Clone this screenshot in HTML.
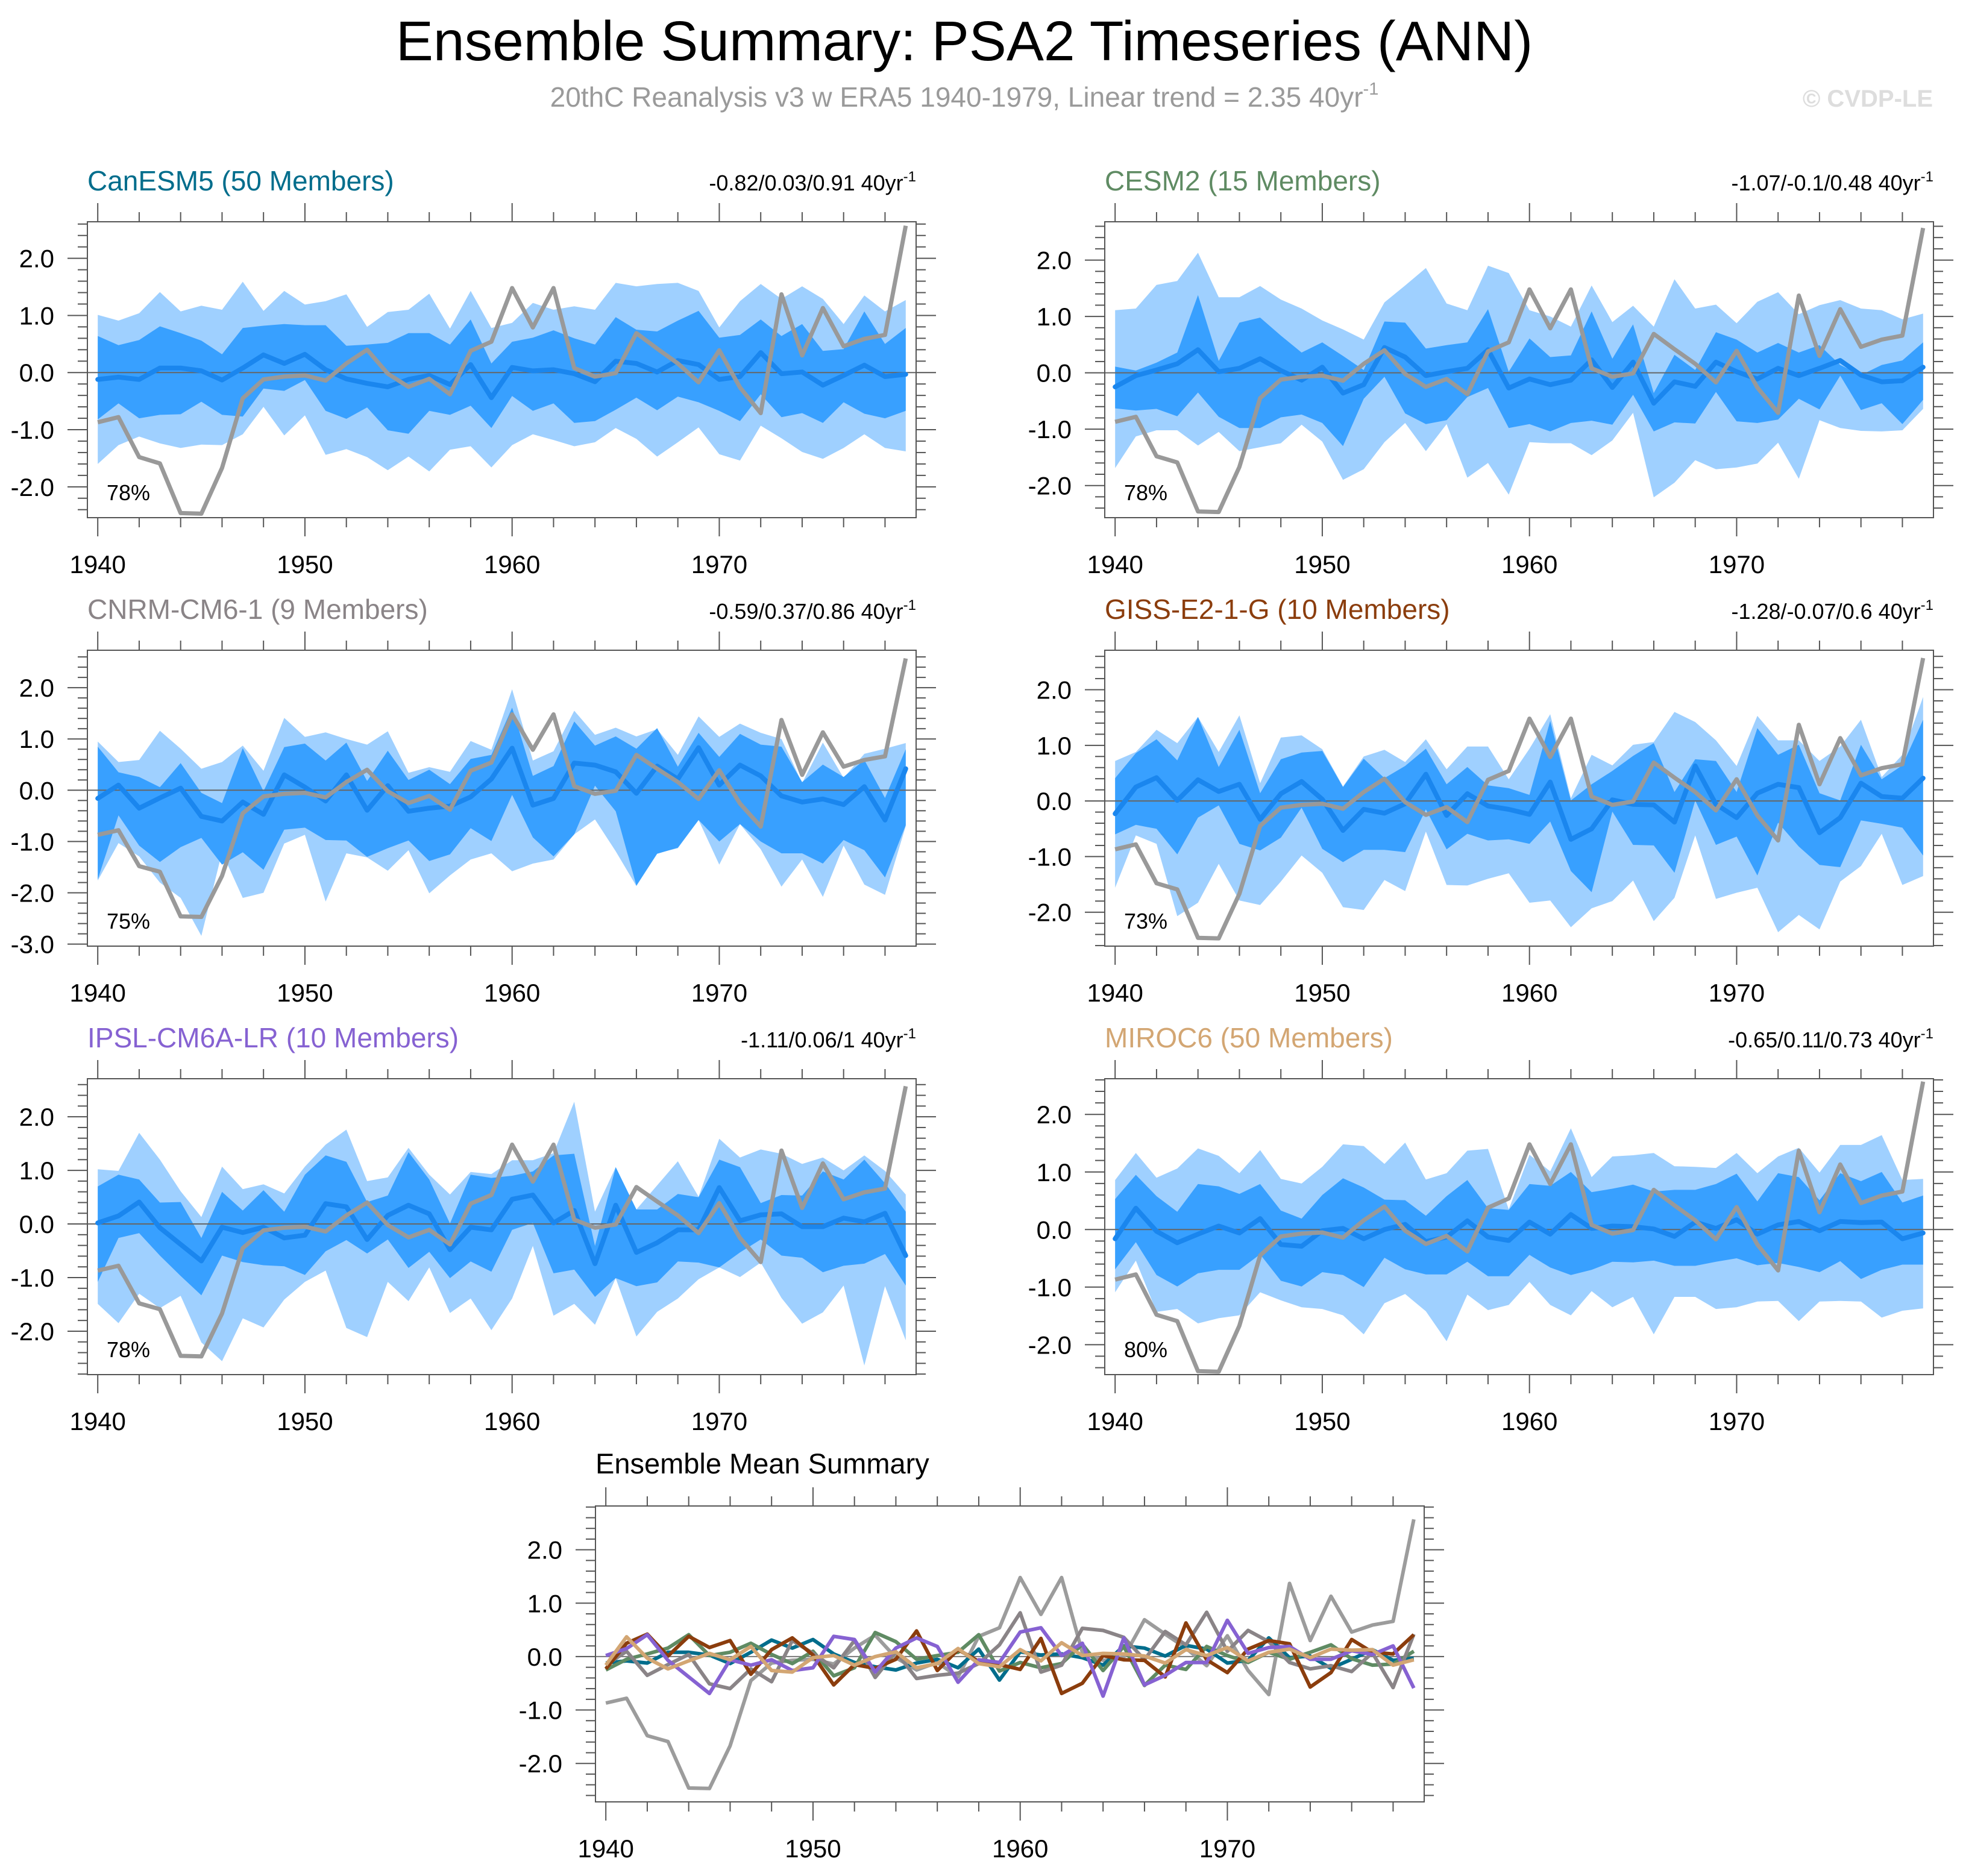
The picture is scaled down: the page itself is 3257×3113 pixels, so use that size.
<!DOCTYPE html>
<html><head><meta charset="utf-8"><title>Ensemble Summary: PSA2 Timeseries (ANN)</title>
<style>
html,body{margin:0;padding:0;background:#fff;}
svg{display:block;font-family:"Liberation Sans",Arial,sans-serif;}
</style></head>
<body>
<svg id="chart" xmlns="http://www.w3.org/2000/svg" width="3257" height="3113" viewBox="0 0 3257 3113">
<rect x="0" y="0" width="3257" height="3113" fill="#fff"/>
<text x="1600" y="100" font-size="93" text-anchor="middle" fill="#000">Ensemble Summary: PSA2 Timeseries (ANN)</text>
<text x="1600" y="177" font-size="46" text-anchor="middle" fill="#9a9a9a">20thC Reanalysis v3 w ERA5 1940-1979, Linear trend = 2.35 40yr<tspan dy="-20" font-size="29">-1</tspan></text>
<text x="3207" y="177" font-size="40" font-weight="bold" text-anchor="end" fill="#dddddd">© CVDP-LE</text>
<g id="panels"></g>
</svg>
<script>
const years = [1940,1941,1942,1943,1944,1945,1946,1947,1948,1949,1950,1951,1952,1953,1954,1955,1956,1957,1958,1959,1960,1961,1962,1963,1964,1965,1966,1967,1968,1969,1970,1971,1972,1973,1974,1975,1976,1977,1978,1979];
const xTickLabels = [1940,1950,1960,1970];
const obs = [-0.87,-0.78,-1.48,-1.59,-2.46,-2.47,-1.67,-0.45,-0.12,-0.07,-0.05,-0.14,0.16,0.40,-0.02,-0.25,-0.11,-0.38,0.38,0.54,1.48,0.79,1.48,0.08,-0.07,-0.01,0.69,0.42,0.16,-0.17,0.39,-0.26,-0.71,1.37,0.30,1.13,0.46,0.59,0.66,2.57];

const canMean = [-0.12,-0.08,-0.12,0.08,0.08,0.03,-0.13,0.08,0.31,0.16,0.32,0.05,-0.11,-0.19,-0.25,-0.12,-0.05,-0.21,0.14,-0.44,0.09,0.03,0.05,-0.02,-0.16,0.20,0.16,0.01,0.21,0.14,-0.12,-0.07,0.35,-0.02,0.01,-0.22,-0.05,0.13,-0.07,-0.03];
const canDarkHi = [0.64,0.48,0.57,0.81,0.69,0.56,0.32,0.78,0.82,0.85,0.83,0.83,0.47,0.49,0.52,0.69,0.69,0.49,0.93,0.16,0.54,0.61,0.74,0.60,0.49,0.97,0.75,0.72,0.91,1.08,0.61,0.66,0.93,0.64,0.85,0.38,0.41,1.07,0.50,0.78];
const canDarkLo = [-0.82,-0.54,-0.80,-0.74,-0.73,-0.51,-0.74,-0.77,-0.28,-0.32,-0.13,-0.67,-0.81,-0.61,-1.01,-1.07,-0.67,-0.74,-0.58,-0.97,-0.41,-0.67,-0.54,-0.88,-0.85,-0.65,-0.44,-0.66,-0.42,-0.52,-0.67,-0.85,-0.38,-0.78,-0.71,-0.88,-0.52,-0.72,-0.80,-0.67];
const canLightHi = [1.01,0.91,1.04,1.41,1.07,1.17,1.10,1.59,1.08,1.43,1.19,1.25,1.37,0.80,1.06,1.10,1.38,0.77,1.43,0.78,0.87,1.22,1.10,1.16,1.10,1.57,1.51,1.55,1.57,1.43,0.79,1.25,1.55,1.29,1.51,1.29,0.85,1.35,1.07,1.27];
const canLightLo = [-1.60,-1.27,-1.12,-1.24,-1.32,-1.26,-1.27,-1.08,-0.60,-1.10,-0.75,-1.44,-1.34,-1.48,-1.71,-1.47,-1.73,-1.35,-1.29,-1.66,-1.27,-1.08,-1.18,-1.29,-1.22,-0.97,-1.16,-1.47,-1.22,-0.96,-1.43,-1.54,-0.93,-1.15,-1.39,-1.51,-1.32,-1.08,-1.32,-1.38];

const cesmMean = [-0.25,-0.05,0.05,0.16,0.41,0.02,0.08,0.25,0.04,-0.13,0.10,-0.36,-0.21,0.45,0.28,-0.05,0.02,0.08,0.41,-0.27,-0.11,-0.21,-0.13,0.23,-0.26,0.19,-0.54,-0.16,-0.24,0.19,0.02,-0.11,0.08,-0.05,0.08,0.22,-0.04,-0.16,-0.14,0.10];
const cesmDarkHi = [0.11,0.04,0.18,0.36,1.38,0.21,0.89,0.98,0.66,0.36,0.54,0.30,0.05,0.91,0.89,0.43,0.49,0.54,1.13,0.02,0.61,0.28,0.31,1.09,0.25,0.86,-0.36,0.32,0.05,0.72,0.59,0.36,0.53,0.36,0.49,0.14,-0.04,0.14,0.22,0.54];
const cesmDarkLo = [-0.63,-0.67,-0.64,-0.77,-0.35,-0.78,-0.98,-0.98,-0.79,-0.74,-0.89,-1.30,-0.46,-0.07,-0.72,-0.91,-0.84,-0.43,-0.27,-0.98,-0.91,-1.04,-0.89,-0.85,-0.92,-0.39,-1.04,-0.88,-0.90,-0.34,-0.86,-0.89,-0.83,-0.46,-0.65,-0.05,-0.66,-0.54,-0.91,-0.48];
const cesmLightHi = [1.11,1.14,1.56,1.63,2.13,1.34,1.34,1.54,1.30,1.14,0.93,0.77,0.59,1.25,1.55,1.86,1.23,1.11,1.90,1.77,1.11,1.00,0.82,1.55,0.90,1.19,0.82,1.66,1.14,1.21,0.88,1.26,1.43,1.04,1.20,1.29,1.14,1.11,0.95,1.05];
const cesmLightLo = [-1.69,-1.13,-1.02,-1.02,-1.29,-1.05,-1.39,-1.32,-1.25,-0.92,-1.22,-1.90,-1.71,-1.23,-0.89,-1.39,-0.91,-1.86,-1.60,-2.16,-1.23,-1.25,-1.25,-1.46,-1.20,-0.71,-2.21,-1.95,-1.55,-1.71,-1.68,-1.61,-1.24,-1.88,-0.84,-0.98,-1.03,-1.04,-1.02,-0.64];

const cnrmMean = [-0.16,0.10,-0.35,-0.15,0.04,-0.51,-0.60,-0.23,-0.47,0.30,0.06,-0.21,0.30,-0.39,0.09,-0.41,-0.35,-0.31,-0.13,0.22,0.82,-0.29,-0.16,0.53,0.49,0.36,-0.06,0.47,0.22,0.83,0.10,0.49,0.28,-0.11,-0.23,-0.17,-0.28,0.07,-0.58,0.42];
const cnrmDarkHi = [0.85,0.35,0.26,0.06,0.53,-0.05,-0.25,0.82,-0.02,0.84,0.91,0.58,0.93,0.18,0.77,0.20,0.40,0.12,0.61,0.69,1.61,0.28,0.47,1.34,0.87,1.05,0.81,1.21,0.46,1.12,0.65,1.10,0.89,0.85,0.16,0.50,0.26,0.59,-0.15,0.80];
const cnrmDarkLo = [-1.74,-0.49,-1.08,-1.40,-1.11,-0.93,-1.45,-1.21,-1.55,-0.77,-0.73,-0.97,-0.98,-1.30,-1.13,-0.98,-1.38,-1.25,-0.74,-0.99,-0.09,-0.92,-1.29,-0.86,0.09,-0.41,-1.86,-1.24,-1.12,-0.58,-1.00,-0.66,-1.00,-1.23,-1.23,-1.43,-0.97,-1.17,-1.70,-0.68];
const cnrmLightHi = [0.95,0.55,0.59,1.16,0.81,0.42,0.55,0.87,0.38,1.41,1.04,1.13,1.00,0.89,1.15,0.34,0.45,0.36,0.96,0.79,1.97,0.58,0.76,1.55,1.08,1.22,1.05,1.19,0.69,1.44,1.04,1.30,1.12,1.00,0.14,0.93,0.24,0.71,0.81,0.92];
const cnrmLightLo = [-1.76,-1.03,-1.29,-1.80,-2.10,-2.84,-1.21,-2.10,-2.00,-1.04,-0.87,-2.17,-1.23,-1.31,-1.57,-1.17,-2.01,-1.66,-1.35,-1.23,-1.58,-1.43,-1.35,-0.86,-0.57,-1.19,-1.87,-1.23,-1.13,-0.58,-1.45,-0.66,-1.15,-1.88,-1.35,-2.08,-1.08,-1.84,-2.04,-0.70];

const gissMean = [-0.23,0.25,0.42,0.01,0.38,0.17,0.30,-0.33,0.13,0.35,0.03,-0.53,-0.15,-0.22,-0.05,0.48,-0.26,0.13,-0.09,-0.15,-0.24,0.34,-0.69,-0.50,0.02,-0.06,-0.07,-0.38,0.63,-0.06,-0.30,0.14,0.30,0.24,-0.57,-0.30,0.32,0.08,0.05,0.41];
const gissDarkHi = [0.41,0.86,1.11,0.73,1.51,0.61,1.28,0.14,0.75,0.87,0.90,0.25,0.76,0.41,0.63,0.94,0.30,0.61,0.28,0.23,0.11,1.44,0.01,0.30,0.54,0.81,1.04,0.16,0.75,0.72,0.16,1.31,0.83,1.01,0.14,0.01,1.01,0.39,0.64,1.46];
const gissDarkLo = [-0.60,-0.43,-0.50,-0.96,-0.30,-0.08,-0.77,-0.89,-0.66,-0.12,-0.86,-1.10,-0.88,-0.88,-0.92,-0.15,-0.87,-0.59,-0.71,-0.69,-0.77,-0.37,-1.26,-1.64,-0.19,-0.79,-0.80,-1.29,0.01,-0.79,-0.64,-1.34,-0.39,-0.82,-1.15,-1.19,-0.35,-0.41,-0.48,-0.98];
const gissLightHi = [0.72,0.88,1.28,1.04,1.51,0.88,1.54,0.32,1.14,1.18,0.93,0.26,0.80,0.92,0.70,1.11,0.57,0.98,0.98,0.39,0.94,1.56,0.05,0.83,0.64,1.01,1.06,1.60,1.42,1.09,0.63,1.53,1.09,1.09,0.72,0.98,1.46,0.43,0.83,1.87];
const gissLightLo = [-1.56,-0.62,-0.77,-2.07,-1.83,-1.13,-1.79,-1.87,-1.45,-0.98,-1.29,-1.91,-1.96,-1.42,-1.62,-0.55,-1.51,-1.52,-1.40,-1.30,-1.83,-1.79,-2.27,-1.93,-1.80,-1.43,-2.16,-1.74,-0.62,-1.76,-1.65,-1.56,-2.36,-2.05,-2.31,-1.45,-1.17,-0.59,-1.51,-1.35];

const ipslMean = [0.02,0.15,0.41,-0.07,-0.38,-0.69,-0.06,-0.16,-0.06,-0.26,-0.21,0.38,0.32,-0.29,0.16,0.35,0.19,-0.48,-0.06,-0.11,0.46,0.54,0.02,0.25,-0.74,0.35,-0.53,-0.35,-0.11,-0.11,0.68,0.06,0.17,0.19,-0.05,-0.05,0.11,0.04,0.20,-0.59];
const ipslDarkHi = [0.70,0.92,0.83,0.40,0.41,-0.26,0.60,0.25,0.63,0.23,0.92,1.28,1.16,0.41,0.53,1.34,0.83,0.01,0.92,0.86,0.90,0.98,1.28,1.31,-0.41,1.06,0.27,0.27,0.56,0.50,1.20,1.06,0.39,0.54,0.53,0.98,0.83,1.20,0.76,0.23];
const ipslDarkLo = [-1.08,-0.26,-0.17,-0.59,-0.97,-1.33,-0.59,-0.71,-0.77,-0.79,-0.95,-0.51,-0.30,-0.55,-0.29,-0.82,-0.52,-1.01,-0.70,-0.89,-0.11,0.02,-0.92,-0.85,-1.36,-1.01,-1.16,-1.09,-0.70,-0.72,-0.81,-0.53,-0.29,-0.59,-0.63,-0.90,-0.78,-0.74,-0.56,-1.15];
const ipslLightHi = [1.02,0.99,1.70,1.20,0.61,0.13,1.07,0.65,0.74,0.57,1.07,1.48,1.76,0.80,0.87,1.42,0.92,0.55,0.97,0.93,1.19,1.19,1.32,2.28,0.23,1.06,0.27,0.72,1.17,0.51,1.59,1.24,1.39,1.31,1.12,1.24,1.00,1.28,0.99,0.55];
const ipslLightLo = [-1.49,-1.85,-1.30,-1.57,-1.34,-2.21,-2.56,-1.76,-1.93,-1.41,-1.08,-0.87,-1.94,-2.11,-1.08,-1.44,-0.81,-1.66,-1.39,-1.98,-1.39,-0.41,-1.71,-1.49,-1.88,-1.01,-2.10,-1.64,-1.39,-1.03,-0.81,-0.99,-0.72,-1.38,-1.86,-1.65,-1.15,-2.64,-1.16,-2.17];

const mirocMean = [-0.16,0.37,-0.03,-0.23,-0.08,0.06,-0.06,0.19,-0.26,-0.29,-0.02,0.02,-0.16,0.00,0.09,-0.21,-0.13,0.15,-0.13,-0.19,0.13,-0.08,0.26,0.02,0.06,0.05,0.01,-0.12,0.13,0.02,0.17,-0.08,0.08,0.14,-0.02,0.14,0.12,0.13,-0.16,-0.06];
const mirocDarkHi = [0.53,0.95,0.58,0.31,0.79,0.75,0.62,0.79,0.33,0.19,0.60,0.89,0.73,0.52,0.51,0.24,0.58,0.86,0.37,0.34,0.79,0.76,1.00,0.65,0.71,0.78,0.66,0.69,0.69,0.79,0.97,0.49,0.98,0.91,0.51,0.98,0.84,1.00,0.47,0.59];
const mirocDarkLo = [-0.69,-0.22,-0.79,-0.99,-0.76,-0.70,-0.70,-0.43,-0.89,-0.99,-0.74,-0.79,-1.00,-0.49,-0.69,-0.78,-0.78,-0.56,-0.81,-0.81,-0.44,-0.66,-0.79,-0.70,-0.56,-0.57,-0.54,-0.63,-0.63,-0.56,-0.50,-0.62,-0.58,-0.65,-0.74,-0.55,-0.86,-0.70,-0.61,-0.61];
const mirocLightHi = [0.86,1.33,0.90,1.06,1.41,1.28,0.98,1.38,0.88,0.80,1.09,1.48,1.45,1.14,1.51,0.87,0.98,1.37,1.40,0.35,1.30,1.01,1.76,0.91,1.27,1.29,1.33,1.10,1.09,1.07,1.33,0.98,1.27,1.42,0.99,1.47,1.47,1.64,0.86,0.88];
const mirocLightLo = [-1.09,-0.54,-1.43,-1.38,-1.63,-1.54,-1.49,-1.09,-1.23,-1.35,-1.38,-1.49,-1.82,-1.28,-1.12,-1.42,-1.94,-1.13,-1.40,-1.31,-0.91,-1.31,-1.49,-1.07,-1.35,-1.17,-1.82,-1.17,-1.17,-1.38,-1.35,-1.25,-1.24,-1.59,-1.25,-1.24,-1.25,-1.53,-1.41,-1.37];

const modelNames = ["CanESM5 (50 Members)","CESM2 (15 Members)","CNRM-CM6-1 (9 Members)","GISS-E2-1-G (10 Members)","IPSL-CM6A-LR (10 Members)","MIROC6 (50 Members)"];
const trendLabels = ["-0.82/0.03/0.91 40yr","-1.07/-0.1/0.48 40yr","-0.59/0.37/0.86 40yr","-1.28/-0.07/0.6 40yr","-1.11/0.06/1 40yr","-0.65/0.11/0.73 40yr"];
const pctLabels = ["78%","78%","75%","73%","78%","80%"];
const yMins = [-2.54,-2.57,-3.04,-2.61,-2.81,-2.52];
const yMaxs = [2.64,2.68,2.73,2.71,2.71,2.62];
const yTickSets = [[-2,-1,0,1,2],[-2,-1,0,1,2],[-3,-2,-1,0,1,2],[-2,-1,0,1,2],[-2,-1,0,1,2],[-2,-1,0,1,2]];

const models = [
 {mean:canMean,dh:canDarkHi,dl:canDarkLo,lh:canLightHi,ll:canLightLo,color:"#006d8c",slug:"canesm5"},
 {mean:cesmMean,dh:cesmDarkHi,dl:cesmDarkLo,lh:cesmLightHi,ll:cesmLightLo,color:"#5f8b63",slug:"cesm2"},
 {mean:cnrmMean,dh:cnrmDarkHi,dl:cnrmDarkLo,lh:cnrmLightHi,ll:cnrmLightLo,color:"#8a8487",slug:"cnrm-cm6-1"},
 {mean:gissMean,dh:gissDarkHi,dl:gissDarkLo,lh:gissLightHi,ll:gissLightLo,color:"#8b3d0d",slug:"giss-e2-1-g"},
 {mean:ipslMean,dh:ipslDarkHi,dl:ipslDarkLo,lh:ipslLightHi,ll:ipslLightLo,color:"#8662d2",slug:"ipsl-cm6a-lr"},
 {mean:mirocMean,dh:mirocDarkHi,dl:mirocDarkLo,lh:mirocLightHi,ll:mirocLightLo,color:"#d3a673",slug:"miroc6"}
];

const NS = "http://www.w3.org/2000/svg";
const root = document.getElementById("panels");
function mk(tag, attrs, parent){
  const e = document.createElementNS(NS, tag);
  for (const k in attrs) e.setAttribute(k, attrs[k]);
  parent.appendChild(e);
  return e;
}
const PW = 1375, PH = 491;
const layout = [[145,368],[1833,368],[145,1079],[1833,1079],[145,1790],[1833,1790]];

function axes(g, L, T, ymin, ymax, yt, slug){
  const xs = yr => L + (yr - 1939.5) / 40 * PW;
  const ys = v => T + (ymax - v) / (ymax - ymin) * PH;
  const tk = mk("g", {stroke:"#555","stroke-width":2}, g);
  
  
  for (let yr = 1940; yr <= 1978; yr += 2) {
    const major = yr % 10 === 0;
    const len = major ? 31 : 16;
    const x = xs(yr);
    mk("line", {x1:x, x2:x, y1:T, y2:T - len}, tk);
    mk("line", {x1:x, x2:x, y1:T + PH, y2:T + PH + len}, tk);
  }
  const start = Math.ceil(ymin * 5) / 5;
  for (let v = start; v <= ymax + 1e-6; v += 0.2) {
    const vv = Math.round(v * 10) / 10;
    const major = Math.abs(vv - Math.round(vv)) < 1e-6;
    const len = major ? 33 : 16;
    const y = ys(vv);
    mk("line", {x1:L, x2:L - len, y1:y, y2:y}, tk);
    mk("line", {x1:L + PW, x2:L + PW + len, y1:y, y2:y}, tk);
  }
  xTickLabels.forEach(yr => {
    const t = mk("text", {x:xs(yr), y:T + PH + 92, "font-size":42, "text-anchor":"middle", fill:"#000"}, g);
    
    
    t.textContent = yr;
  });
  yt.forEach(v => {
    const t = mk("text", {x:L - 55, y:ys(v) + 15, "font-size":42, "text-anchor":"end", fill:"#000"}, g);
    
    
    t.textContent = v.toFixed(1);
  });
  return {xs, ys};
}
function pathOf(arr, xs, ys){
  return arr.map((v,i) => (i ? "L" : "M") + xs(years[i]).toFixed(1) + "," + ys(v).toFixed(1)).join("");
}
function bandOf(hi, lo, xs, ys){
  let d = hi.map((v,i) => (i ? "L" : "M") + xs(years[i]).toFixed(1) + "," + ys(v).toFixed(1)).join("");
  for (let i = lo.length - 1; i >= 0; i--) d += "L" + xs(years[i]).toFixed(1) + "," + ys(lo[i]).toFixed(1);
  return d + "Z";
}

models.forEach((m, k) => {
  const [L, T] = layout[k];
  const g = mk("g", {}, root);
  
  
  const ttl = mk("text", {x:L, y:T - 52, "font-size":46, fill:m.color}, g);
  
  
  ttl.textContent = modelNames[k];
  const tr = mk("text", {x:L + PW, y:T - 52, "font-size":36, "text-anchor":"end", fill:"#000"}, g);
  
  
  tr.textContent = trendLabels[k];
  const sup = mk("tspan", {dy:-15, "font-size":24}, tr);
  sup.textContent = "-1";
  const {xs, ys} = axes(g, L, T, yMins[k], yMaxs[k], yTickSets[k], m.slug);
  const lb = mk("path", {d:bandOf(m.lh, m.ll, xs, ys), fill:"#9fd0ff"}, g);
  
  
  const db = mk("path", {d:bandOf(m.dh, m.dl, xs, ys), fill:"#38a0ff"}, g);
  
  
  const z = mk("line", {x1:L, x2:L + PW, y1:ys(0), y2:ys(0), stroke:"#666", "stroke-width":2}, g);
  
  
  const ml = mk("path", {d:pathOf(m.mean, xs, ys), fill:"none", stroke:"#1a86ee", "stroke-width":8, "stroke-linejoin":"round", "stroke-linecap":"round"}, g);
  
  
  const ol = mk("path", {d:pathOf(obs, xs, ys), fill:"none", stroke:"#999", "stroke-width":7, "stroke-linejoin":"round"}, g);
  
  
  const pc = mk("text", {x:L + 32, y:T + 462, "font-size":36, fill:"#000"}, g);
  
  
  pc.textContent = pctLabels[k];
  const bx = mk("rect", {x:L, y:T, width:PW, height:PH, fill:"none", stroke:"#555", "stroke-width":2}, g);
  
  
});

(function(){
  const L = 988, T = 2499, ymin = -2.72, ymax = 2.82;
  const g = mk("g", {}, root);
  
  
  const ttl = mk("text", {x:L, y:T - 54, "font-size":47, fill:"#000"}, g);
  
  
  ttl.textContent = "Ensemble Mean Summary";
  const {xs, ys} = axes(g, L, T, ymin, ymax, [-2,-1,0,1,2], 'summary');
  const z = mk("line", {x1:L, x2:L + PW, y1:ys(0), y2:ys(0), stroke:"#777", "stroke-width":2}, g);
  
  
  const ol = mk("path", {d:pathOf(obs, xs, ys), fill:"none", stroke:"#9c9c9c", "stroke-width":6, "stroke-linejoin":"round"}, g);
  
  
  models.forEach(m => {
    const p = mk("path", {d:pathOf(m.mean, xs, ys), fill:"none", stroke:m.color, "stroke-width":6, "stroke-linejoin":"round"}, g);
    
    
  });
  const bx = mk("rect", {x:L, y:T, width:PW, height:PH, fill:"none", stroke:"#555", "stroke-width":2}, g);
  
  
})();
</script>
</body></html>
